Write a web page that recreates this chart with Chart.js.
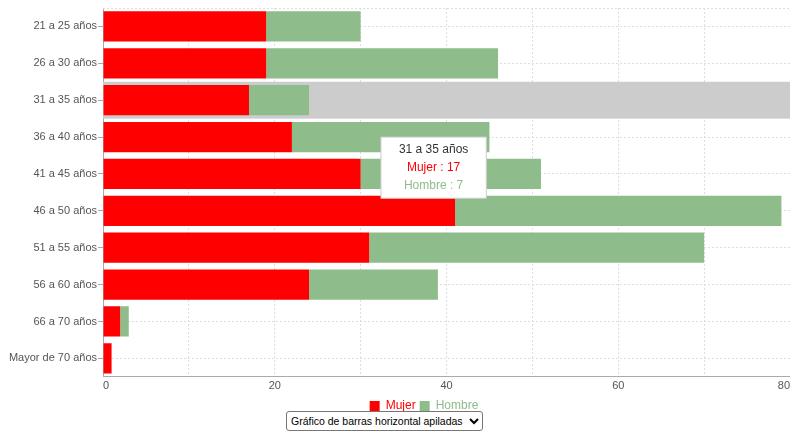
<!DOCTYPE html>
<html>
<head>
<meta charset="utf-8">
<script src="https://cdn.jsdelivr.net/npm/chart.js@4/dist/chart.umd.min.js"></script>
<style>
  body { margin: 0; background: #fff; font-family: "Liberation Sans", Arial, sans-serif; }
  #wrap { position: relative; width: 790px; height: 432px; overflow: hidden; }
  #chartBox { position: absolute; left: 0; top: 0; width: 790px; height: 422px; }
  #tipo { position: absolute; left: 286px; top: 411px; width: 197px; height: 20px;
          font: 10.5px "Liberation Sans", Arial, sans-serif; border: 1px solid #767676;
          border-radius: 3px; background: #fff; color: #000; padding: 0; }
</style>
</head>
<body>
<div id="wrap">
  <div id="chartBox"><canvas id="edadChart"></canvas></div>
  <select id="tipo"><option>Gráfico de barras horizontal apiladas</option></select>
</div>
<script>
// Rangos de edad y valores
const categorias = ['21 a 25 años', '26 a 30 años', '31 a 35 años', '36 a 40 años', '41 a 45 años',
                    '46 a 50 años', '51 a 55 años', '56 a 60 años', '66 a 70 años', 'Mayor de 70 años'];
const mujer = [19, 19, 17, 22, 30, 41, 31, 24, 2, 1];
const hombre = [11, 27, 7, 23, 21, 38, 39, 15, 1, 0];
const xTicks = [0, 20, 40, 60, 80];

const colorMujer = '#ff0000';
const colorHombre = '#8fbc8b';
const filaActiva = 2;
const fuente = { family: 'Liberation Sans', size: 11 };

// Fondo gris de la fila seleccionada
const resaltarFila = {
    id: 'resaltarFila',
    beforeDatasetsDraw(chart) {
        const y = chart.scales.y;
        const area = chart.chartArea;
        const top = y.getPixelForValue(filaActiva - 0.5);
        const bottom = y.getPixelForValue(filaActiva + 0.5);
        const ctx = chart.ctx;
        ctx.save();
        ctx.fillStyle = '#cccccc';
        ctx.fillRect(area.left, top, area.right - area.left, bottom - top);
        ctx.restore();
    }
};

// Linea punteada en el borde superior del area
const bordeSuperior = {
    id: 'bordeSuperior',
    beforeDatasetsDraw(chart) {
        const area = chart.chartArea;
        const ctx = chart.ctx;
        ctx.save();
        ctx.strokeStyle = '#dddddd';
        ctx.setLineDash([2, 2]);
        ctx.beginPath();
        ctx.moveTo(area.left, area.top + 0.5);
        ctx.lineTo(area.right, area.top + 0.5);
        ctx.stroke();
        ctx.restore();
    }
};

// La leyenda va centrada un poco a la derecha del centro del lienzo
const moverLeyenda = {
    id: 'moverLeyenda',
    afterLayout(chart) {
        chart.legend.left += 54;
    }
};

Chart.Tooltip.positioners.fila = function () {
    const chart = this.chart;
    return {
        x: chart.scales.x.getPixelForValue(38.5),
        y: chart.scales.y.getPixelForValue(filaActiva + 1)
    };
};

const ctx = document.getElementById('edadChart').getContext('2d');
const chart = new Chart(ctx, {
    type: 'bar',
    data: {
        labels: categorias,
        datasets: [
            { label: 'Mujer', data: mujer, backgroundColor: colorMujer },
            { label: 'Hombre', data: hombre, backgroundColor: colorHombre }
        ]
    },
    plugins: [resaltarFila, bordeSuperior, moverLeyenda],
    options: {
        indexAxis: 'y',
        responsive: true,
        maintainAspectRatio: false,
        animation: false,
        events: [],
        categoryPercentage: 1,
        barPercentage: 0.82,
        layout: { padding: { top: 8, left: 0, right: -4, bottom: 0 } },
        scales: {
            x: {
                stacked: true,
                min: 0,
                max: 80,
                afterFit(s) { s.paddingRight = 0; s.paddingLeft = 0; },
                ticks: {
                    stepSize: 10,
                    color: '#555',
                    font: fuente,
                    padding: 3,
                    align: 'inner',
                    callback: v => xTicks.includes(v) ? v : ''
                },
                grid: { color: '#dddddd', drawTicks: false },
                border: { display: true, color: '#aaa', dash: [2, 2] }
            },
            y: {
                stacked: true,
                afterFit(s) { s.width = 103; },
                ticks: { color: '#555', font: fuente, padding: 1 },
                grid: { offset: false, color: '#dddddd', tickLength: 5, tickColor: '#aaa' },
                border: { display: true, color: '#aaa', dash: [2, 2] }
            }
        },
        plugins: {
            legend: {
                position: 'bottom',
                labels: {
                    boxWidth: 10,
                    boxHeight: 10,
                    padding: 4,
                    font: { family: 'Liberation Sans', size: 12 },
                    generateLabels(c) {
                        return c.data.datasets.map((d, i) => ({
                            text: d.label,
                            fillStyle: d.backgroundColor,
                            strokeStyle: d.backgroundColor,
                            lineWidth: 0,
                            fontColor: d.backgroundColor,
                            datasetIndex: i
                        }));
                    }
                }
            },
            tooltip: {
                position: 'fila',
                xAlign: 'center',
                yAlign: 'top',
                caretSize: 0,
                caretPadding: 0,
                backgroundColor: '#ffffff',
                borderColor: '#cccccc',
                borderWidth: 1,
                cornerRadius: 0,
                displayColors: false,
                titleAlign: 'center',
                bodyAlign: 'center',
                titleColor: '#333',
                titleFont: { family: 'Liberation Sans', size: 12, weight: 'normal' },
                bodyFont: { family: 'Liberation Sans', size: 12 },
                titleMarginBottom: 4,
                bodySpacing: 4,
                padding: { x: 18, y: 5 },
                callbacks: {
                    label: item => item.dataset.label + ' : ' + item.raw,
                    labelTextColor: item => item.dataset.backgroundColor
                }
            }
        }
    }
});

// Tooltip fijo sobre la fila 31 a 35 años
chart.tooltip.setActiveElements(
    [{ datasetIndex: 0, index: filaActiva }, { datasetIndex: 1, index: filaActiva }],
    { x: 0, y: 0 }
);
chart.update();
</script>
</body>
</html>
